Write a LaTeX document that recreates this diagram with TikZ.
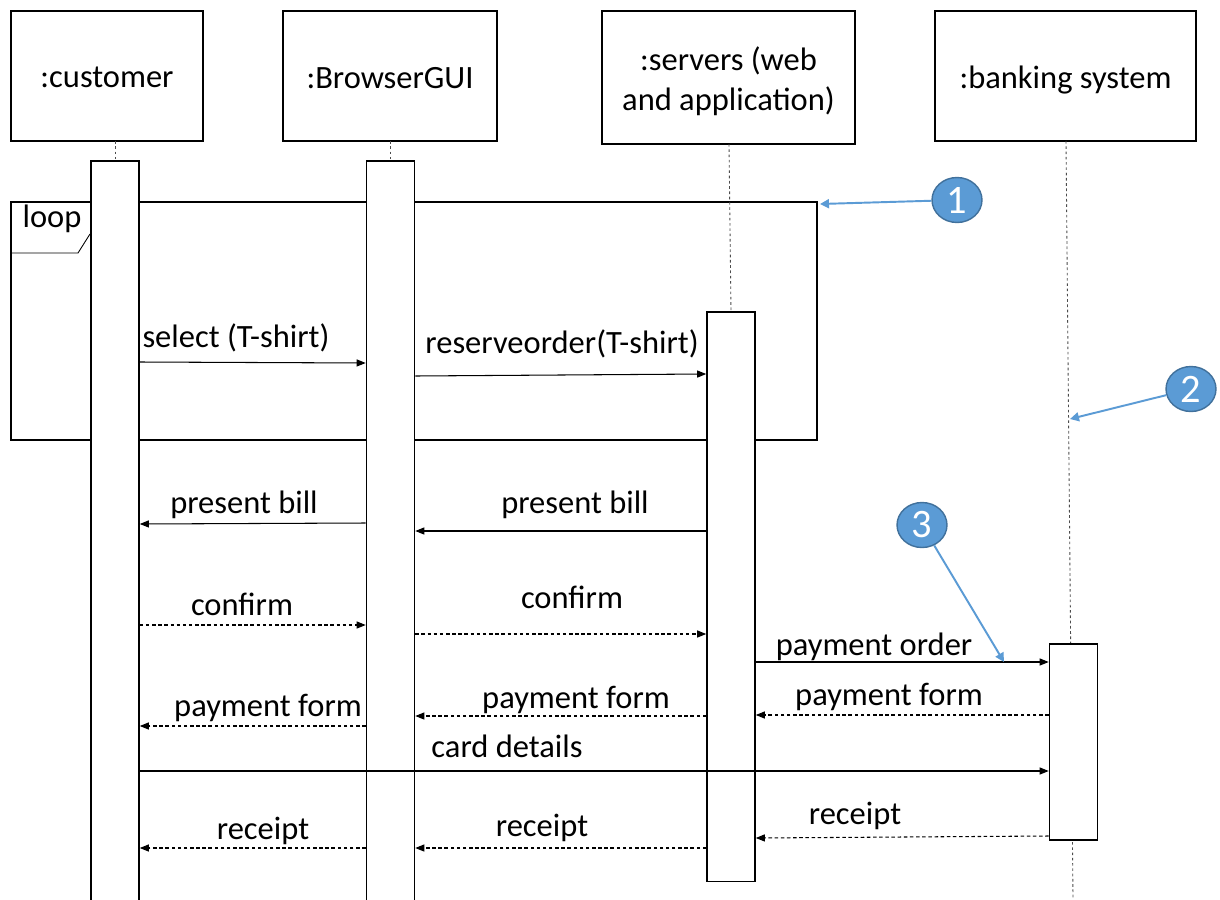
\documentclass[tikz,border=0pt]{standalone}
\usepackage{fontspec}
\setmainfont{Carlito}
\usetikzlibrary{arrows.meta,shapes.geometric}
\definecolor{cblue}{HTML}{5B9BD5}
\definecolor{cblued}{HTML}{41719C}
\begin{document}
\begin{tikzpicture}[x=0.02cm,y=-0.02cm,
  font=\fontsize{18.5pt}{22.8pt}\selectfont,
  hbox/.style={draw, line width=0.9pt, fill=white, inner sep=0pt, align=center},
  actbox/.style={draw, line width=0.9pt, fill=white, inner sep=0pt, minimum width=0.96cm},
  msg/.style={line width=0.6pt, -{Triangle[length=0.18cm,width=0.14cm]}},
  rmsg/.style={msg, dash pattern=on 2pt off 1.5pt},
  life/.style={draw=black!70, line width=0.5pt, dash pattern=on 1.5pt off 1.5pt},
  lbl/.style={anchor=base, inner sep=0pt},
  callout/.style={ellipse, draw=cblued, line width=0.8pt, fill=cblue, text=white, inner sep=0pt, minimum width=1.0cm, minimum height=0.9cm, font=\fontsize{23pt}{23pt}\selectfont},
  cline/.style={draw=cblue, line width=1.1pt, -{Triangle[length=0.18cm,width=0.18cm]}}
]
\clip (0,0) rectangle (1220,899);
\fill[white] (0,0) rectangle (1220,899);

% loop frame
\draw[line width=0.9pt] (11,202) rectangle (817,440);
\draw[line width=0.5pt] (11,253) -- (78,253) -- (90,234);
\node[lbl] (looplbl) at (52,227) {loop};

% headers
\node[hbox, minimum width=3.84cm, minimum height=2.6cm] (hc) at (107,76) {};
\node[lbl] (hct) at (107,87) {:customer};
\node[hbox, minimum width=4.28cm, minimum height=2.6cm] (hb) at (390,76) {};
\node[lbl] (hbt) at (390,88) {:BrowserGUI};
\node[hbox, minimum width=5.06cm, minimum height=2.66cm] (hs) at (728.5,77.5) {};
\node[lbl] (hst1) at (728.5,70) {:servers (web};
\node[lbl] (hst2) at (728.5,110) {and application)};
\node[hbox, minimum width=5.22cm, minimum height=2.6cm] (hk) at (1065.5,76) {};
\node[lbl] (hkt) at (1065.5,88) {:banking system};

% lifelines
\coordinate (lc) at (115,141);
\coordinate (lb) at (390,141);
\coordinate (ls) at (729,144);
\coordinate (lk) at (1066,141);
\coordinate (lkend) at (1073,899);
\draw[life] (lc) -- (115,160);
\draw[life] (lb) -- (390,160);
\draw[life] (ls) -- (731,311);
\draw[life] (lk) -- (lkend);

% activation bars
\node[actbox, minimum height=15cm, anchor=north] (ac) at (115,160) {};
\node[actbox, minimum height=15cm, anchor=north] (ab) at (390.5,160) {};
\node[actbox, minimum height=11.4cm, anchor=north] (as) at (731,311) {};
\node[actbox, minimum height=3.92cm, anchor=north] (ak) at (1073.5,643) {};

% messages
\draw[msg] (ac.east |- 0,362) -- (ab.west |- 0,363);
\node[lbl] at (236,347) {select (T-shirt)};
\draw[msg] (ab.east |- 0,376) -- (as.west |- 0,374);
\node[lbl] at (562,353) {reserveorder(T-shirt)};

\draw[msg] (ab.west |- 0,523) -- (ac.east |- 0,524);
\node[lbl] at (244,513) {present bill};
\draw[msg] (as.west |- 0,531) -- (ab.east |- 0,531);
\node[lbl] at (575,513) {present bill};

\draw[rmsg] (ac.east |- 0,625) -- (ab.west |- 0,625);
\node[lbl] at (242,615) {confirm};
\draw[rmsg] (ab.east |- 0,634) -- (as.west |- 0,634);
\node[lbl] at (572,608) {confirm};

\draw[msg] (as.east |- 0,662) -- (ak.west |- 0,662);
\node[lbl] at (874,655) {payment order};

\draw[rmsg] (ak.west |- 0,715) -- (as.east |- 0,715);
\node[lbl] at (889,705) {payment form};
\draw[rmsg] (as.west |- 0,716) -- (ab.east |- 0,716);
\node[lbl] at (576,708) {payment form};
\draw[rmsg] (ab.west |- 0,726) -- (ac.east |- 0,726);
\node[lbl] at (268,716) {payment form};

\draw[msg] (ac.east |- 0,771) -- (ak.west |- 0,771);
\node[lbl] at (507,757) {card details};

\draw[rmsg] (ak.west |- 0,836) -- (as.east |- 0,838);
\node[lbl] at (855,824) {receipt};
\draw[rmsg] (as.west |- 0,848) -- (ab.east |- 0,848);
\node[lbl] at (542,836) {receipt};
\draw[rmsg] (ab.west |- 0,848) -- (ac.east |- 0,848);
\node[lbl] at (263,839) {receipt};

% callouts
\node[callout] (c1) at (957,200) {1};
\node[callout] (c2) at (1191,389) {2};
\node[callout] (c3) at (922,525) {3};
\coordinate (t1) at (820,204);
\coordinate (t2) at (1070,419);
\coordinate (t3) at (1004,662);
\draw[cline] (c1) -- (t1);
\draw[cline] (c2) -- (t2);
\draw[cline] (c3) -- (t3);
\end{tikzpicture}
\end{document}
